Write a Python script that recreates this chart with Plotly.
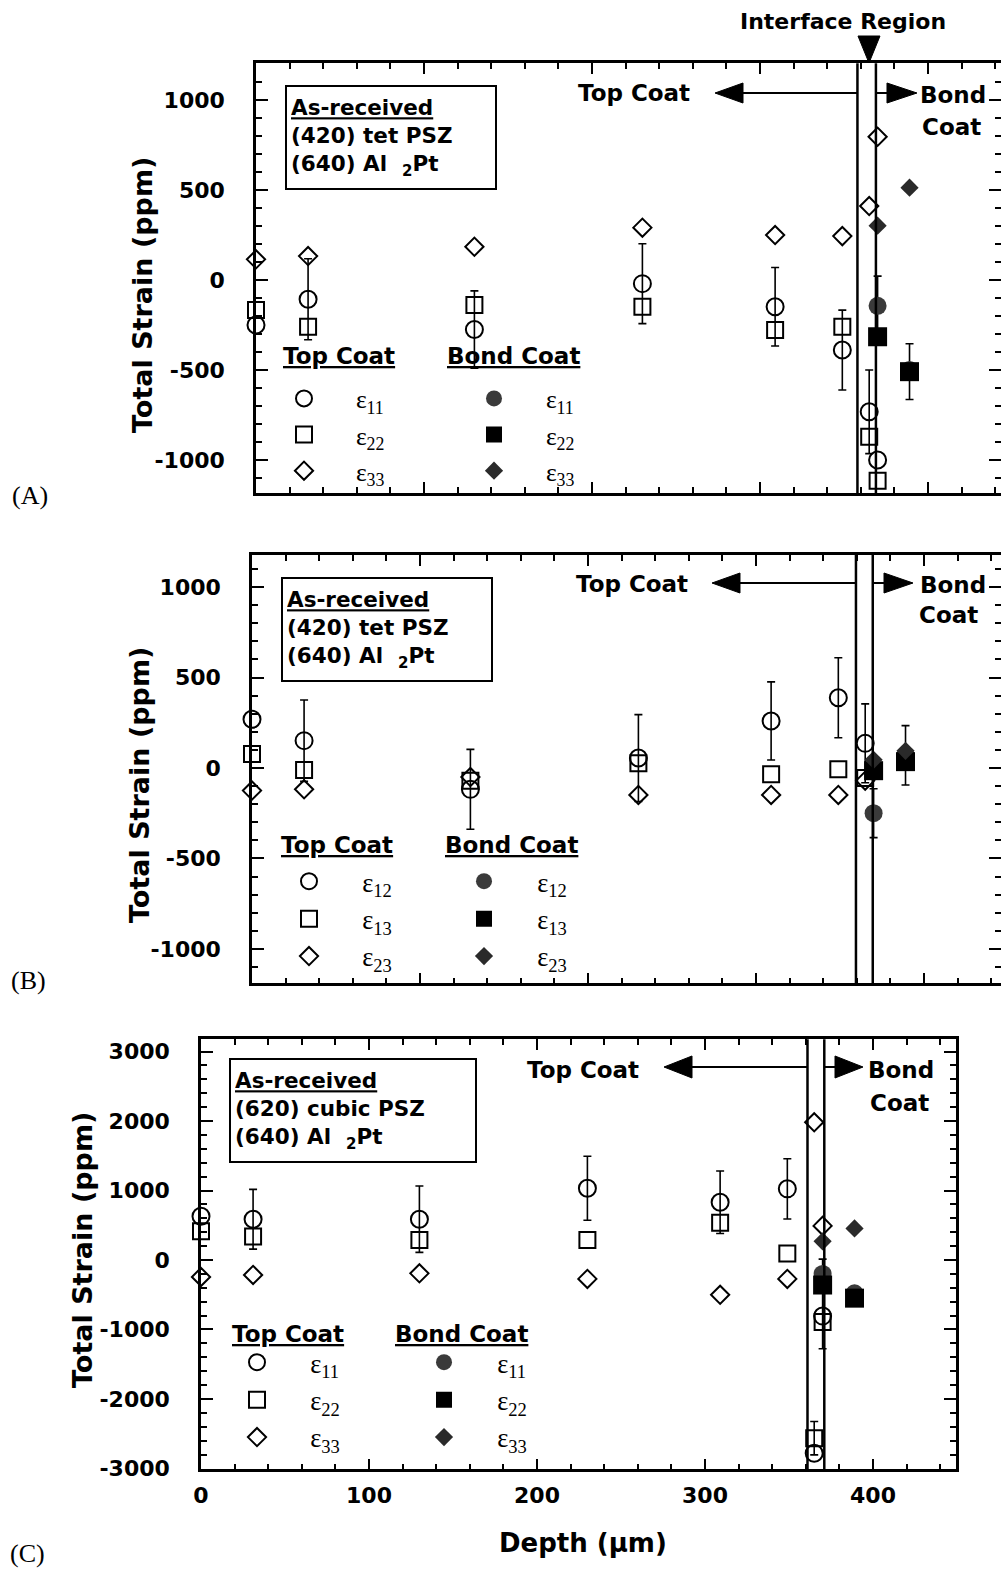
import plotly.graph_objects as go

W, H = 1001, 1570

# ---------------- data ----------------
DEPTH_TOP = [0, 31, 130, 230, 309, 349, 365, 370]
DEPTH_BOND = [370, 389]

A_TOP_E11 = [-250, -107, -275, -20, -148, -389, -732, -1000]
A_TOP_E11_ERR = [None, 225, 215, 222, 218, 222, 232, None]
A_TOP_E22 = [-167, -259, -139, -148, -278, -259, -870, -1115]
A_TOP_E33 = [115, 133, 185, 291, 250, 244, 411, 796]
A_BOND_E11 = [-143, -500]
A_BOND_E11_ERR = [165, None]
A_BOND_E22 = [-315, -509]
A_BOND_E22_ERR = [None, 155]
A_BOND_E33 = [302, 513]

B_TOP_E12 = [269, 151, -118, 55, 260, 388, 136, None]
B_TOP_E12_ERR = [None, 225, 221, 240, 216, 221, 218, None]
B_TOP_E13 = [77, -11, -70, 26, -35, -7, -55, None]
B_TOP_E23 = [-125, -118, -50, -149, -149, -149, -70, None]
B_BOND_E12 = [-250, 70]
B_BOND_E12_ERR = [135, 164]
B_BOND_E13 = [-15, 35]
B_BOND_E23 = [45, 95]

C_TOP_E11 = [630, 587, 587, 1032, 831, 1024, -2780, -807]
C_TOP_E11_ERR = [None, 430, 477, 461, 450, 433, None, 820]
C_TOP_E11_ERR_MINUS = [None, 430, 477, 461, 450, 433, None, 470]
C_TOP_E22 = [415, 337, 287, 287, 537, 95, -2565, -893]
C_TOP_E22_ERR = [None, None, None, None, None, None, 240, None]
C_TOP_E33 = [-244, -215, -192, -272, -501, -272, 1982, 491]
C_BOND_E11 = [-200, -480]
C_BOND_E22 = [-360, -549]
C_BOND_E33 = [268, 454]

IFACE_A = [358, 369]
IFACE_B = [359.5, 369.5]
IFACE_C = [361, 371]

X_TICKS = [0, 100, 200, 300, 400]
X_TICK_TEXT = ["0", "100", "200", "300", "400"]
Y_TICKS_AB = [-1000, -500, 0, 500, 1000]
Y_TICK_TEXT_AB = ["-1000", "-500", "0", "500", "1000"]
Y_TICKS_C = [-3000, -2000, -1000, 0, 1000, 2000, 3000]
Y_TICK_TEXT_C = ["-3000", "-2000", "-1000", "0", "1000", "2000", "3000"]

LABELS_N = ["11", "22", "33"]
LABELS_S = ["12", "13", "23"]


def px(x):
    return x / W


def py(y):
    return 1 - y / H


SANS = "DejaVu Sans"
SERIF = "Liberation Serif"
NB = "\u00a0"

fig = go.Figure()

OPEN = {"c": ("circle-open", 17), "s": ("square-open", 16), "d": ("diamond-open", 14)}
FILL = {"c": ("circle", 18, "#3a3a3a"), "s": ("square", 19, "black"), "d": ("diamond", 14, "#2a2a2a")}


def add_err(xs, ys, err, errm, xa, ya):
    if err is None:
        return
    errm = errm if errm is not None else err
    idx = [i for i in range(len(xs)) if err[i] is not None and ys[i] is not None]
    if not idx:
        return
    fig.add_trace(go.Scatter(
        x=[xs[i] for i in idx], y=[ys[i] for i in idx], mode="markers",
        marker=dict(size=1, opacity=0), showlegend=False, hoverinfo="skip", cliponaxis=False,
        error_y=dict(type="data", symmetric=False, array=[err[i] for i in idx],
                     arrayminus=[errm[i] for i in idx], color="black",
                     thickness=1.6, width=4),
        xaxis=xa, yaxis=ya))


def add_pts(xs, ys, kind, filled, name, legend, xa, ya):
    if filled:
        sym, size, col = FILL[kind]
        marker = dict(symbol=sym, size=size, color=col, line=dict(width=0))
    else:
        sym, size = OPEN[kind]
        marker = dict(symbol=sym, size=size, color="black", line=dict(width=2, color="black"))
    fig.add_trace(go.Scatter(x=xs, y=ys, mode="markers", marker=marker, cliponaxis=False,
                             name=NB * 5 + "\u03b5<sub>" + name + "</sub>",
                             legend=legend, xaxis=xa, yaxis=ya, hoverinfo="skip"))


def panel(xa, ya, top, top_err, bond, bond_err, labels, leg_top, leg_bond):
    kinds = ["c", "s", "d"]
    for k in range(3):
        e, em = top_err[k]
        add_err(DEPTH_TOP, top[k], e, em, xa, ya)
    for k in range(3):
        e, em = bond_err[k]
        add_err(DEPTH_BOND, bond[k], e, em, xa, ya)
    for k in range(3):
        add_pts(DEPTH_TOP, top[k], kinds[k], False, labels[k], leg_top, xa, ya)
    for k in range(3):
        add_pts(DEPTH_BOND, bond[k], kinds[k], True, labels[k], leg_bond, xa, ya)


panel("x", "y",
      [A_TOP_E11, A_TOP_E22, A_TOP_E33], [(A_TOP_E11_ERR, None), (None, None), (None, None)],
      [A_BOND_E11, A_BOND_E22, A_BOND_E33], [(A_BOND_E11_ERR, None), (A_BOND_E22_ERR, None), (None, None)],
      LABELS_N, "legend", "legend2")
panel("x2", "y2",
      [B_TOP_E12, B_TOP_E13, B_TOP_E23], [(B_TOP_E12_ERR, None), (None, None), (None, None)],
      [B_BOND_E12, B_BOND_E13, B_BOND_E23], [(B_BOND_E12_ERR, None), (None, None), (None, None)],
      LABELS_S, "legend3", "legend4")
panel("x3", "y3",
      [C_TOP_E11, C_TOP_E22, C_TOP_E33], [(C_TOP_E11_ERR, C_TOP_E11_ERR_MINUS), (C_TOP_E22_ERR, None), (None, None)],
      [C_BOND_E11, C_BOND_E22, C_BOND_E33], [(None, None), (None, None), (None, None)],
      LABELS_N, "legend5", "legend6")

TICKFONT = dict(family=SANS, size=22, color="black", weight="bold")


def xcfg(domain, rng, anchor, labels):
    return dict(domain=domain, range=rng, anchor=anchor, showline=True, linecolor="black",
                linewidth=2.5, mirror="ticks", ticks="inside", ticklen=11, tickwidth=2,
                tickcolor="black", tickmode="array", tickvals=X_TICKS, ticktext=X_TICK_TEXT,
                showticklabels=labels, tickfont=TICKFONT, ticklabelstandoff=5,
                minor=dict(ticks="inside", ticklen=6, tickwidth=1.5, dtick=20, tick0=0,
                           tickcolor="black", showgrid=False),
                showgrid=False, zeroline=False, fixedrange=True, automargin=False)


def ycfg(domain, rng, anchor, tv, tt, mdt):
    return dict(domain=domain, range=rng, anchor=anchor, showline=True, linecolor="black",
                linewidth=2.5, mirror="ticks", ticks="inside", ticklen=12, tickwidth=2,
                tickcolor="black", tickmode="array", tickvals=tv, ticktext=tt,
                tickfont=TICKFONT, ticklabelstandoff=24,
                minor=dict(ticks="inside", ticklen=6, tickwidth=1.5, dtick=mdt, tick0=0,
                           tickcolor="black", showgrid=False),
                showgrid=False, zeroline=False, fixedrange=True, automargin=False)


A_X = [px(256), 1.0]
A_Y = [py(493), py(63.3)]
B_X = [px(252), 1.0]
B_Y = [py(983.3), py(555)]
C_X = [px(201), px(956)]
C_Y = [py(1469.3), py(1039.3)]

layout = dict(
    template="none",
    width=W, height=H, margin=dict(l=0, r=0, t=0, b=0, autoexpand=False),
    paper_bgcolor="white", plot_bgcolor="white", showlegend=True,
    xaxis=xcfg(A_X, [0, (1001 - 256) / 1.68], "y", False),
    yaxis=ycfg(A_Y, [-1183, 1204], "x", Y_TICKS_AB, Y_TICK_TEXT_AB, 100),
    xaxis2=xcfg(B_X, [0, (1001 - 252) / 1.68], "y2", False),
    yaxis2=ycfg(B_Y, [-1190, 1177], "x2", Y_TICKS_AB, Y_TICK_TEXT_AB, 100),
    xaxis3=xcfg(C_X, [0, 449.4], "y3", True),
    yaxis3=ycfg(C_Y, [-3012, 3176], "x3", Y_TICKS_C, Y_TICK_TEXT_C, 200),
)


def leg(marker_x, first_y, size):
    return dict(x=px(marker_x - 19), y=py(first_y - size * 0.85), xanchor="left", yanchor="top",
                xref="paper", yref="paper",
                bgcolor="rgba(0,0,0,0)", borderwidth=0, itemclick=False, itemdoubleclick=False,
                font=dict(family=SERIF, size=size, color="black"))


layout["legend"] = leg(303, 397, 25.5)
layout["legend2"] = leg(493, 397, 25.5)
layout["legend3"] = leg(308, 880, 26.5)
layout["legend4"] = leg(483, 880, 26.5)
layout["legend5"] = leg(256, 1361, 26.5)
layout["legend6"] = leg(443, 1361, 26.5)
fig.update_layout(**layout)

shapes = []
for xr, bounds in (("x", IFACE_A), ("x2", IFACE_B), ("x3", IFACE_C)):
    yd = xr.replace("x", "y") + " domain"
    for b in bounds:
        shapes.append(dict(type="line", xref=xr, yref=yd, x0=b, x1=b, y0=0, y1=1,
                           line=dict(color="black", width=2.5)))


def tri(pts):
    s = "M " + " L ".join("%.5f,%.5f" % (px(a), py(b)) for a, b in pts) + " Z"
    return dict(type="path", xref="paper", yref="paper", path=s,
                fillcolor="black", line=dict(color="black", width=1))


def hline(x0, x1, y):
    return dict(type="line", xref="paper", yref="paper", x0=px(x0), x1=px(x1), y0=py(y), y1=py(y),
                line=dict(color="black", width=2))


def arrows(y, ltip, lbase, l_end, r_start, rbase, rtip, hh=10):
    return [hline(lbase, l_end, y), tri([(ltip, y), (lbase, y - hh), (lbase, y + hh)]),
            hline(r_start, rbase, y), tri([(rtip, y), (rbase, y - hh), (rbase, y + hh)])]


shapes += arrows(93, 715, 743, 858, 876, 887, 917)
shapes += arrows(583, 712, 740, 856, 873, 884, 913)
shapes += arrows(1067, 664, 692, 808, 824, 835, 863, hh=11)
shapes.append(tri([(858, 36), (880, 36), (869, 63)]))
fig.update_layout(shapes=shapes)

ann = []


def text(x, y, t, size, xanchor="center", family=SANS, weight="bold", angle=0, **kw):
    d = dict(x=px(x), y=py(y), xref="paper", yref="paper", text=t, showarrow=False,
             xanchor=xanchor, yanchor="middle", textangle=angle,
             font=dict(family=family, size=size, color="black", weight=weight))
    d.update(kw)
    ann.append(d)


text(843, 22, "Interface Region", 22)
for (tcx, tcy, bx, by, cx, cy) in ((634, 93, 918, 95, 920, 127),
                                   (632, 584, 918, 585, 917, 615),
                                   (583, 1070, 866, 1070, 868, 1103)):
    text(tcx, tcy, "Top Coat", 23)
    text(bx, by, "Bond", 23, xanchor="left")
    text(cx, cy, "Coat", 23, xanchor="left")

for (x, y, t) in ((281, 356, "Top Coat"), (445, 356, "Bond Coat"),
                  (279, 845, "Top Coat"), (443, 845, "Bond Coat"),
                  (230, 1334, "Top Coat"), (393, 1334, "Bond Coat")):
    text(x, y, "<u>" + t + "</u>", 23, xanchor="left")

for (bx, by, phase) in ((285, 85, "(420) tet PSZ"), (281, 577, "(420) tet PSZ"),
                        (229, 1058, "(620) cubic PSZ")):
    ann.append(dict(x=px(bx), y=py(by), xref="paper", yref="paper", showarrow=False,
                    xanchor="left", yanchor="top", align="left", valign="middle",
                    width=200 if "tet" in phase else 236, height=93,
                    bordercolor="black", borderwidth=2, borderpad=4, bgcolor="white",
                    text="<u>As-received</u><br>" + phase + "<br>(640) Al" + NB * 2 + "<sub>2</sub>Pt",
                    font=dict(family=SANS, size=21.5, color="black", weight="bold")))

text(142, 295, "Total Strain (ppm)", 27, angle=-90)
text(139, 785, "Total Strain (ppm)", 27, angle=-90)
text(82, 1250, "Total Strain (ppm)", 27, angle=-90)
text(583, 1543, "Depth (\u00b5m)", 26)

text(30, 495, "(A)", 26, family=SERIF, weight="normal")
text(28, 980, "(B)", 26, family=SERIF, weight="normal")
text(27, 1553, "(C)", 26, family=SERIF, weight="normal")

fig.update_layout(annotations=ann)

fig.write_html(
    "out.html",
    config={"displayModeBar": False, "responsive": False},
    post_script="document.documentElement.style.margin='0';document.body.style.margin='0';"
                "document.body.style.padding='0';",
)
